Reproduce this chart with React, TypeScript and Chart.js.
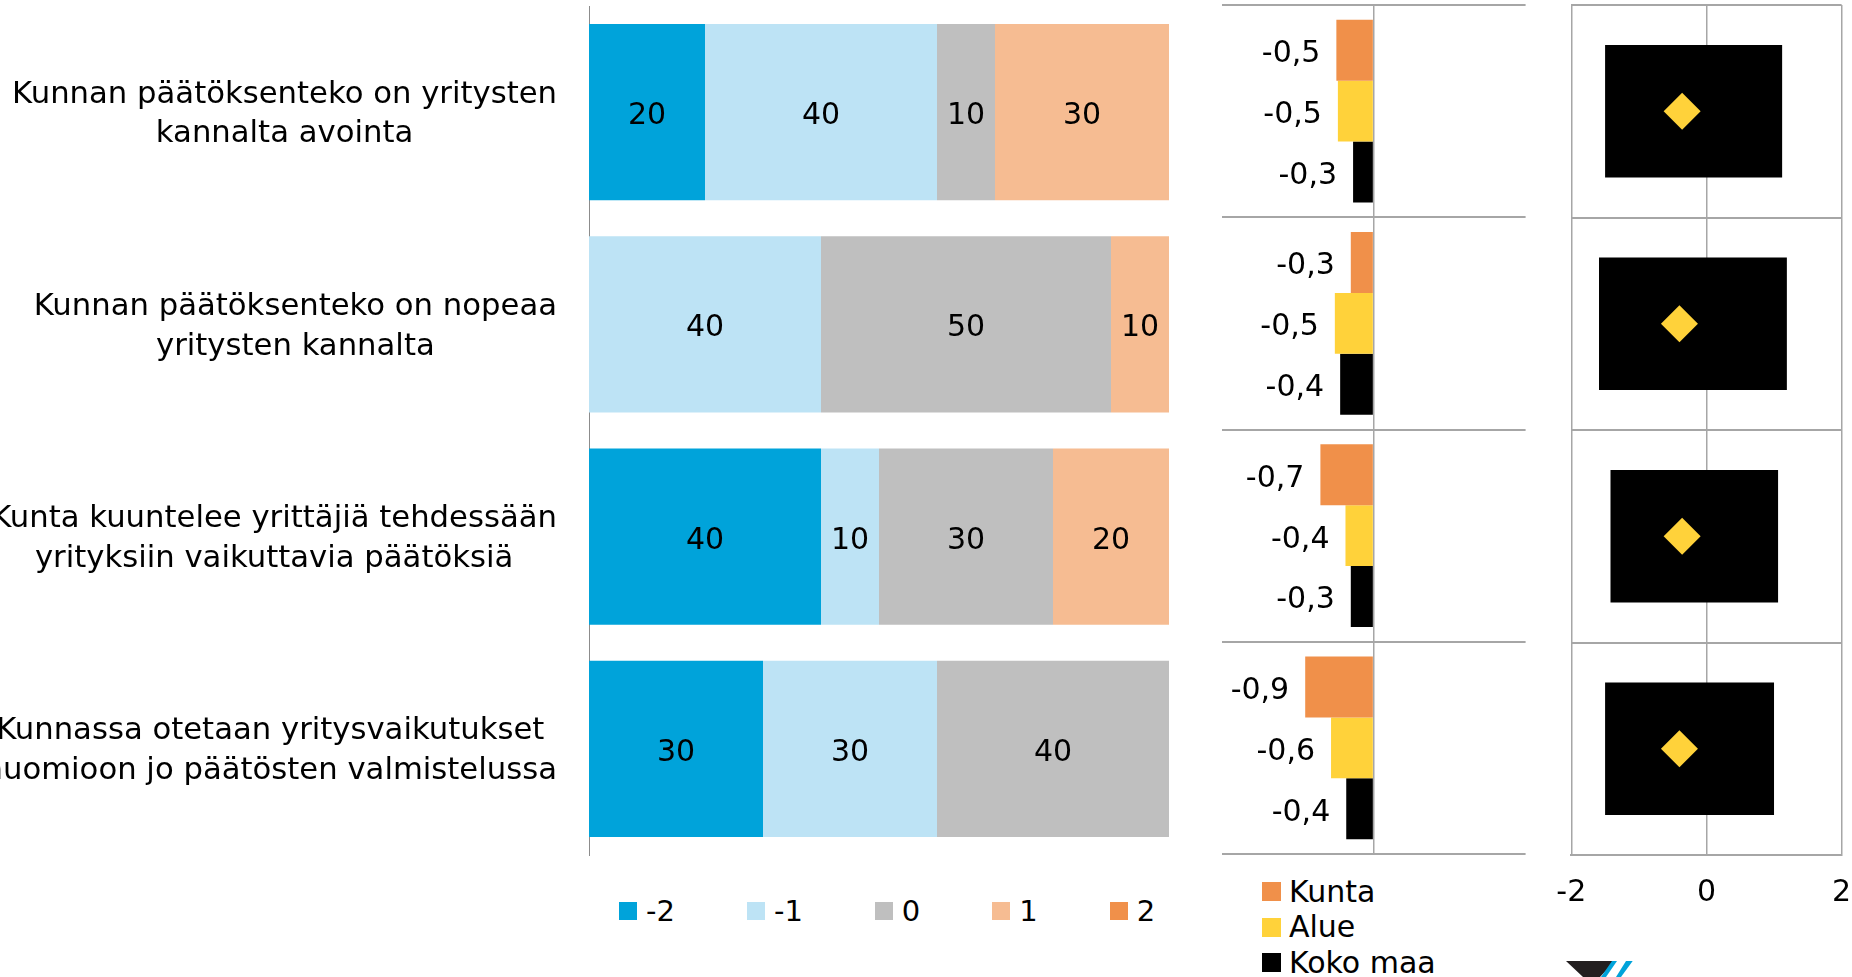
import React, { useEffect, useRef } from "react";
import { Chart, registerables } from "chart.js";

Chart.register(...registerables);

// ---------- data ----------
const categories: string[][] = [
  ["Kunnan päätöksenteko on yritysten", "kannalta avointa"],
  ["Kunnan päätöksenteko on nopeaa", "yritysten kannalta"],
  ["Kunta kuuntelee yrittäjiä tehdessään", "yrityksiin vaikuttavia päätöksiä"],
  ["Kunnassa otetaan yritysvaikutukset", "huomioon jo päätösten valmistelussa"],
];

const scaleLabels = ["-2", "-1", "0", "1", "2"];
const shareMinus2 = [20, 0, 40, 30];
const shareMinus1 = [40, 40, 10, 30];
const shareZero = [10, 50, 30, 40];
const sharePlus1 = [30, 10, 20, 0];
const sharePlus2 = [0, 0, 0, 0];

const groupLabels = ["Kunta", "Alue", "Koko maa"];
const kuntaAvg = [-0.49, -0.3, -0.7, -0.9];
const alueAvg = [-0.47, -0.51, -0.37, -0.56];
const kokoMaaAvg = [-0.27, -0.44, -0.3, -0.36];

const rangeMin = [-1.5, -1.59, -1.42, -1.5];
const rangeMax = [1.12, 1.19, 1.06, 1.0];
const markerValue = [-0.36, -0.4, -0.36, -0.4];

// ---------- styles ----------
const FONT = '"DejaVu Sans", sans-serif';
const scaleColors = ["#00A3DA", "#BDE3F5", "#BFBFBF", "#F6BC92", "#F0904A"];
const groupColors = ["#F0904A", "#FFD23A", "#000000"];
const GRID = "#a6a6a6";
const NUM_SIZE = 30;
const CAP = 0.729; // DejaVu Sans cap height ratio

const fmt = (v: number) => v.toFixed(1).replace(".", ",");

export default function App() {
  const c1 = useRef<HTMLCanvasElement>(null);
  const c2 = useRef<HTMLCanvasElement>(null);
  const c3 = useRef<HTMLCanvasElement>(null);

  useEffect(() => {
    const charts: Chart[] = [];
    const numBaseline = (y: number) => y + (CAP * NUM_SIZE) / 2 + 1;

    // ---- stacked distribution chart ----
    const shares = [shareMinus2, shareMinus1, shareZero, sharePlus1, sharePlus2];
    const catLabelPlugin = {
      id: "catLabels",
      afterDraw(chart: any) {
        const ctx = chart.ctx;
        const yScale = chart.scales.y;
        ctx.save();
        ctx.font = `30.7px ${FONT}`;
        ctx.fillStyle = "#000";
        ctx.textAlign = "center";
        ctx.textBaseline = "alphabetic";
        const right = chart.chartArea.left - 32;
        categories.forEach((lines, i) => {
          const yc = yScale.getPixelForValue(i);
          const w = Math.max(...lines.map((l) => ctx.measureText(l).width));
          const cx = right - w / 2;
          lines.forEach((l, j) => {
            ctx.fillText(l, cx, yc - 9.5 + j * 39.7);
          });
        });
        ctx.restore();
      },
    };
    const segLabelPlugin = {
      id: "segLabels",
      afterDatasetsDraw(chart: any) {
        const ctx = chart.ctx;
        ctx.save();
        ctx.font = `${NUM_SIZE}px ${FONT}`;
        ctx.fillStyle = "#000";
        ctx.textAlign = "center";
        ctx.textBaseline = "alphabetic";
        chart.data.datasets.forEach((ds: any, i: number) => {
          const meta = chart.getDatasetMeta(i);
          meta.data.forEach((el: any, j: number) => {
            const v = ds.data[j];
            if (v > 0) ctx.fillText(String(v), (el.x + el.base) / 2, numBaseline(el.y));
          });
        });
        ctx.restore();
      },
    };
    charts.push(
      new Chart(c1.current!, {
        type: "bar",
        data: {
          labels: categories.map((c) => c.join(" ")),
          datasets: shares.map((d, i) => ({
            label: scaleLabels[i],
            data: d,
            backgroundColor: scaleColors[i],
            borderWidth: 0,
            categoryPercentage: 0.83,
            barPercentage: 1,
          })),
        },
        options: {
          indexAxis: "y",
          responsive: false,
          animation: false,
          layout: { autoPadding: false, padding: { left: 589, top: 6, right: 31, bottom: 15 } },
          plugins: { legend: { display: false }, tooltip: { enabled: false } },
          scales: {
            x: { stacked: true, min: 0, max: 100, display: false },
            y: {
              stacked: true,
              grid: { display: false, drawTicks: false },
              ticks: { display: false },
              border: { display: true, color: "#8c8c8c", width: 1 },
            },
          },
        } as any,
        plugins: [catLabelPlugin, segLabelPlugin],
      })
    );

    // ---- averages chart ----
    const avgLabelPlugin = {
      id: "avgLabels",
      afterDatasetsDraw(chart: any) {
        const ctx = chart.ctx;
        ctx.save();
        ctx.font = `${NUM_SIZE}px ${FONT}`;
        ctx.fillStyle = "#000";
        ctx.textAlign = "right";
        ctx.textBaseline = "alphabetic";
        chart.data.datasets.forEach((ds: any, i: number) => {
          const meta = chart.getDatasetMeta(i);
          meta.data.forEach((el: any, j: number) => {
            ctx.fillText(fmt(ds.data[j]), el.x - 16, numBaseline(el.y));
          });
        });
        ctx.restore();
      },
    };
    const avgSeries = [kuntaAvg, alueAvg, kokoMaaAvg];
    charts.push(
      new Chart(c2.current!, {
        type: "bar",
        data: {
          labels: categories.map((c) => c.join(" ")),
          datasets: avgSeries.map((d, i) => ({
            label: groupLabels[i],
            data: d,
            backgroundColor: groupColors[i],
            borderWidth: 0,
            categoryPercentage: 0.86,
            barPercentage: 1,
          })),
        },
        options: {
          indexAxis: "y",
          responsive: false,
          animation: false,
          layout: { autoPadding: false, padding: { left: 21.6, top: 5, right: 14.4, bottom: 16 } },
          plugins: { legend: { display: false }, tooltip: { enabled: false } },
          scales: {
            x: {
              min: -2,
              max: 2,
              ticks: { display: false, stepSize: 1 },
              grid: {
                drawTicks: false,
                lineWidth: 1.5,
                color: (c: any) => (c.tick && c.tick.value === 0 ? GRID : "rgba(0,0,0,0)"),
              },
              border: { display: false },
            },
            y: {
              grid: { drawTicks: false, color: GRID, lineWidth: 2, offset: true },
              ticks: { display: false },
              border: { display: false },
            },
          },
        } as any,
        plugins: [avgLabelPlugin],
      })
    );

    // ---- range chart ----
    charts.push(
      new Chart(c3.current!, {
        type: "bar",
        data: {
          labels: categories.map((c) => c.join(" ")),
          datasets: [
            {
              type: "line",
              label: "Keskiarvo",
              data: markerValue,
              indexAxis: "y",
              xAxisID: "x",
              yAxisID: "y",
              showLine: false,
              pointStyle: "rectRot",
              pointRadius: 18.5,
              pointBackgroundColor: "#FFD23A",
              pointBorderColor: "#FFD23A",
              pointBorderWidth: 0,
              clip: false,
              order: 1,
            } as any,
            {
              type: "bar",
              label: "Vaihteluväli",
              data: rangeMin.map((m, i) => [m, rangeMax[i]]),
              backgroundColor: "#000",
              borderWidth: 0,
              categoryPercentage: 0.623,
              barPercentage: 1,
              order: 2,
            } as any,
          ],
        },
        options: {
          indexAxis: "y",
          responsive: false,
          animation: false,
          layout: { autoPadding: false, padding: { left: 41.3, top: 5, right: 30.4, bottom: 46 } },
          plugins: { legend: { display: false }, tooltip: { enabled: false } },
          scales: {
            x: {
              min: -2,
              max: 2,
              ticks: {
                stepSize: 2,
                padding: 20,
                color: "#000",
                font: { family: FONT, size: NUM_SIZE },
                maxRotation: 0,
              },
              grid: { drawTicks: false, color: GRID, lineWidth: 1.5 },
              border: { display: true, color: GRID, width: 2 },
            },
            y: {
              grid: { drawTicks: false, color: GRID, lineWidth: 2, offset: true },
              ticks: { display: false },
              border: { display: false },
            },
          },
        } as any,
      })
    );

    return () => charts.forEach((c) => c.destroy());
  }, []);

  const legendText = (size: number): React.CSSProperties => ({
    fontFamily: FONT,
    fontSize: size,
    color: "#000",
    lineHeight: "36px",
    whiteSpace: "nowrap",
  });

  return (
    <div
      style={{
        position: "absolute",
        left: 0,
        top: 0,
        width: 1852,
        height: 977,
        overflow: "hidden",
        background: "#fff",
      }}
    >
      <canvas ref={c1} width={1200} height={870} style={{ position: "absolute", left: 0, top: 0 }} />
      <canvas ref={c2} width={340} height={870} style={{ position: "absolute", left: 1200, top: 0 }} />
      <canvas ref={c3} width={342} height={977} style={{ position: "absolute", left: 1530, top: 0 }} />

      {/* legend of the distribution chart */}
      <div style={{ position: "absolute", left: 619, top: 892.5, display: "flex", alignItems: "center" }}>
        {scaleLabels.map((l, i) => (
          <div key={l} style={{ display: "flex", alignItems: "center", marginRight: 72 }}>
            <span style={{ width: 18, height: 18, background: scaleColors[i], marginRight: 9, display: "inline-block" }} />
            <span style={legendText(29)}>{l}</span>
          </div>
        ))}
      </div>

      {/* legend of the averages chart */}
      <div style={{ position: "absolute", left: 1261.5, top: 874 }}>
        {groupLabels.map((l, i) => (
          <div key={l} style={{ display: "flex", alignItems: "center", height: 35.5 }}>
            <span style={{ width: 19.5, height: 19, background: groupColors[i], marginRight: 8, display: "inline-block" }} />
            <span style={legendText(30)}>{l}</span>
          </div>
        ))}
      </div>

      {/* logo fragment */}
      <svg width={90} height={22} style={{ position: "absolute", left: 1560, top: 955 }}>
        <polygon points="6,6 55,6 40,22 23,22" fill="#231f20" />
        <polygon points="52,6 57,6 46,22 41,22" fill="#00A3DA" />
        <polygon points="66,6 72.7,6 61,22 56,22" fill="#00A3DA" />
      </svg>
    </div>
  );
}
